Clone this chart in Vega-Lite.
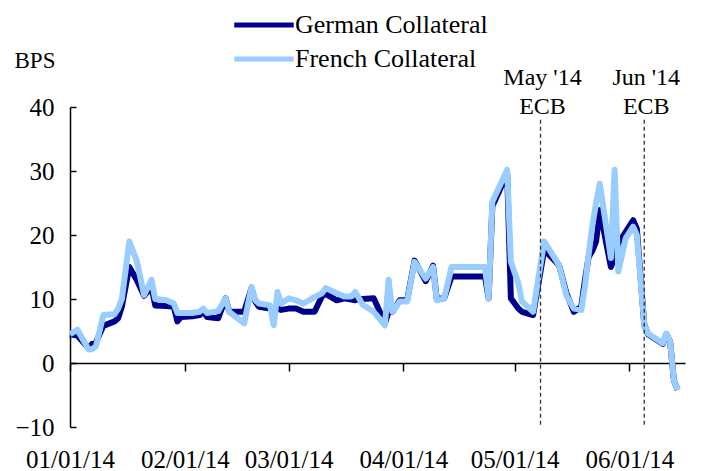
{
  "$schema": "https://vega.github.io/schema/vega-lite/v6.json",
  "width": 615,
  "height": 320,
  "autosize": {"type": "none"},
  "padding": {"left": 70, "top": 107, "right": 17, "bottom": 44},
  "config": {
    "font": "Liberation Serif",
    "view": {"stroke": null},
    "axis": {"labelFont": "Liberation Serif", "labelColor": "#000", "titleFont": "Liberation Serif", "grid": false}
  },
  "datasets": {
    "rates": [
      {"date": "2014-01-01", "german": 4.5, "french": 4.5},
      {"date": "2014-01-03", "german": 4.3, "french": 5.2},
      {"date": "2014-01-06", "german": 2.3, "french": 2.1},
      {"date": "2014-01-07", "german": 3.0, "french": 2.2},
      {"date": "2014-01-08", "german": 3.2, "french": 2.6},
      {"date": "2014-01-10", "german": 5.8, "french": 7.5},
      {"date": "2014-01-13", "german": 6.5, "french": 7.6},
      {"date": "2014-01-14", "german": 7.0, "french": 8.5},
      {"date": "2014-01-15", "german": 8.8, "french": 10.0},
      {"date": "2014-01-17", "german": 15.0, "french": 19.0},
      {"date": "2014-01-19", "german": 13.0, "french": 16.0},
      {"date": "2014-01-21", "german": 10.5, "french": 10.6},
      {"date": "2014-01-23", "german": 11.9, "french": 13.0},
      {"date": "2014-01-24", "german": 9.0, "french": 10.0},
      {"date": "2014-01-27", "german": 8.9, "french": 9.8},
      {"date": "2014-01-29", "german": 8.8, "french": 9.3},
      {"date": "2014-01-30", "german": 6.5, "french": 7.8},
      {"date": "2014-01-31", "german": 7.2, "french": 7.8},
      {"date": "2014-02-03", "german": 7.3, "french": 7.8},
      {"date": "2014-02-05", "german": 7.5, "french": 8.0},
      {"date": "2014-02-06", "german": 8.0, "french": 8.5},
      {"date": "2014-02-07", "german": 7.2, "french": 7.8},
      {"date": "2014-02-10", "german": 7.0, "french": 8.1},
      {"date": "2014-02-12", "german": 10.1, "french": 10.1},
      {"date": "2014-02-13", "german": 8.0, "french": 8.0},
      {"date": "2014-02-17", "german": 8.0, "french": 6.2},
      {"date": "2014-02-19", "german": 11.7, "french": 11.9},
      {"date": "2014-02-20", "german": 9.6, "french": 9.8},
      {"date": "2014-02-21", "german": 8.8, "french": 9.3},
      {"date": "2014-02-24", "german": 8.5, "french": 9.0},
      {"date": "2014-02-25", "german": 8.5, "french": 5.9},
      {"date": "2014-02-26", "german": 8.5, "french": 11.1},
      {"date": "2014-02-27", "german": 8.3, "french": 9.3},
      {"date": "2014-03-01", "german": 8.5, "french": 10.1},
      {"date": "2014-03-03", "german": 8.5, "french": 9.8},
      {"date": "2014-03-05", "german": 8.0, "french": 9.3},
      {"date": "2014-03-08", "german": 8.0, "french": 10.3},
      {"date": "2014-03-10", "german": 10.4, "french": 10.9},
      {"date": "2014-03-11", "german": 10.8, "french": 11.7},
      {"date": "2014-03-14", "german": 9.8, "french": 10.9},
      {"date": "2014-03-16", "german": 10.1, "french": 10.4},
      {"date": "2014-03-18", "german": 9.9, "french": 10.4},
      {"date": "2014-03-19", "german": 9.8, "french": 11.1},
      {"date": "2014-03-20", "german": 10.0, "french": 10.1},
      {"date": "2014-03-21", "german": 10.0, "french": 9.1},
      {"date": "2014-03-24", "german": 10.1, "french": 8.0},
      {"date": "2014-03-27", "german": 6.2, "french": 5.9},
      {"date": "2014-03-28", "german": 8.0, "french": 13.0},
      {"date": "2014-03-29", "german": 8.0, "french": 8.0},
      {"date": "2014-03-31", "german": 9.8, "french": 9.6},
      {"date": "2014-04-02", "german": 9.8, "french": 9.6},
      {"date": "2014-04-04", "german": 16.0, "french": 15.8},
      {"date": "2014-04-07", "german": 12.8, "french": 13.2},
      {"date": "2014-04-09", "german": 15.2, "french": 15.0},
      {"date": "2014-04-10", "german": 10.0, "french": 9.8},
      {"date": "2014-04-12", "german": 10.1, "french": 10.1},
      {"date": "2014-04-14", "german": 13.5, "french": 15.0},
      {"date": "2014-04-23", "german": 13.5, "french": 15.0},
      {"date": "2014-04-24", "german": 10.1, "french": 10.1},
      {"date": "2014-04-25", "german": 24.5, "french": 25.2},
      {"date": "2014-04-29", "german": 29.6, "french": 30.2},
      {"date": "2014-04-30", "german": 10.1, "french": 15.8},
      {"date": "2014-05-02", "german": 8.5, "french": 12.5},
      {"date": "2014-05-03", "german": 8.0, "french": 9.6},
      {"date": "2014-05-06", "german": 7.5, "french": 8.0},
      {"date": "2014-05-09", "german": 17.7, "french": 19.0},
      {"date": "2014-05-13", "german": 15.3, "french": 15.3},
      {"date": "2014-05-15", "german": 10.9, "french": 10.5},
      {"date": "2014-05-17", "german": 8.0, "french": 8.5},
      {"date": "2014-05-19", "german": 8.8, "french": 8.3},
      {"date": "2014-05-20", "german": 13.0, "french": 12.0},
      {"date": "2014-05-21", "german": 16.6, "french": 17.0},
      {"date": "2014-05-22", "german": 17.5, "french": 21.5},
      {"date": "2014-05-23", "german": 19.0, "french": 25.0},
      {"date": "2014-05-24", "german": 23.9, "french": 28.0},
      {"date": "2014-05-27", "german": 15.0, "french": 16.4},
      {"date": "2014-05-28", "german": 16.5, "french": 30.2},
      {"date": "2014-05-29", "german": 18.7, "french": 14.3},
      {"date": "2014-05-31", "german": 20.5, "french": 19.5},
      {"date": "2014-06-02", "german": 22.3, "french": 21.3},
      {"date": "2014-06-03", "german": 21.0, "french": 20.0},
      {"date": "2014-06-05", "german": 6.0, "french": 6.0},
      {"date": "2014-06-06", "german": 4.5, "french": 4.6},
      {"date": "2014-06-10", "german": 3.0, "french": 3.1},
      {"date": "2014-06-11", "german": 4.5, "french": 4.6},
      {"date": "2014-06-12", "german": 3.3, "french": 3.3},
      {"date": "2014-06-13", "german": -2.7, "french": -2.7},
      {"date": "2014-06-14", "german": -4.2, "french": -4.2}
    ],
    "events": [
      {"date": "2014-05-08", "line1": "May '14", "line2": "ECB"},
      {"date": "2014-06-05", "line1": "Jun '14", "line2": "ECB"}
    ]
  },
  "layer": [
    {
      "data": {"name": "rates"},
      "mark": {"type": "line", "strokeWidth": 6, "strokeJoin": "round", "clip": false},
      "encoding": {
        "x": {
          "field": "date", "type": "temporal",
          "scale": {"domain": [{"year": 2014, "month": 1, "date": 1}, {"year": 2014, "month": 6, "date": 16}]},
          "axis": {
            "title": null, "orient": "bottom", "domain": false, "ticks": false, "format": "%m/%d/%y",
            "values": [{"year": 2014, "month": 1, "date": 1}, {"year": 2014, "month": 2, "date": 1}, {"year": 2014, "month": 3, "date": 1}, {"year": 2014, "month": 4, "date": 1}, {"year": 2014, "month": 5, "date": 1}, {"year": 2014, "month": 6, "date": 1}],
            "labelFontSize": 25, "labelPadding": 20, "labelFlush": false, "labelOverlap": false
          }
        },
        "y": {
          "field": "german", "type": "quantitative",
          "scale": {"domain": [-10, 40], "nice": false, "zero": false},
          "axis": {
            "title": "BPS", "titleAngle": 0, "titleAlign": "left", "titleBaseline": "middle", "titleX": -56, "titleY": -47,
            "titleFontSize": 23, "titleFontWeight": "normal", "titleColor": "#000",
            "values": [-10, 0, 10, 20, 30, 40], "labelFontSize": 25, "labelPadding": 22,
            "domainColor": "#000", "domainWidth": 1.5, "tickColor": "#000", "tickSize": -6, "tickWidth": 1.5
          }
        },
        "color": {
          "datum": "German Collateral",
          "type": "nominal",
          "scale": {"domain": ["German Collateral", "French Collateral"], "range": ["#00008B", "#99CCFF"]},
          "legend": {
            "title": null, "orient": "none", "legendX": 173, "legendY": -103,
            "symbolType": "M-1.65,0H1.65", "symbolSize": 1300, "symbolStrokeWidth": 5,
            "labelFontSize": 26, "labelFont": "Liberation Serif", "labelColor": "#000", "labelOffset": 10,
            "labelLimit": 400, "rowPadding": -5
          }
        }
      }
    },
    {
      "data": {"name": "rates"},
      "mark": {"type": "line", "strokeWidth": 6, "strokeJoin": "round", "clip": false},
      "encoding": {
        "x": {"field": "date", "type": "temporal", "axis": null},
        "y": {"field": "french", "type": "quantitative"},
        "color": {"datum": "French Collateral", "type": "nominal"}
      }
    },
    {
      "data": {"name": "events"},
      "mark": {"type": "rule", "strokeDash": [4, 3], "strokeWidth": 1.3, "color": "#333"},
      "encoding": {
        "x": {
          "field": "date", "type": "temporal",
          "axis": {
            "title": null, "orient": "bottom", "labels": false, "offset": -64, "domainColor": "#000", "domainWidth": 1.5,
            "tickColor": "#000", "tickSize": 8, "tickWidth": 1.5,
            "values": [{"year": 2014, "month": 1, "date": 1}, {"year": 2014, "month": 2, "date": 1}, {"year": 2014, "month": 3, "date": 1}, {"year": 2014, "month": 4, "date": 1}, {"year": 2014, "month": 5, "date": 1}, {"year": 2014, "month": 6, "date": 1}]
          }
        },
        "y": {"datum": 38},
        "y2": {"datum": -10}
      }
    },
    {
      "data": {"name": "events"},
      "mark": {"type": "text", "fontSize": 24, "baseline": "middle", "align": "center", "color": "#000", "dx": 2},
      "encoding": {
        "x": {"field": "date", "type": "temporal", "axis": null},
        "y": {"datum": 44.5},
        "text": {"field": "line1"}
      }
    },
    {
      "data": {"name": "events"},
      "mark": {"type": "text", "fontSize": 24, "baseline": "middle", "align": "center", "color": "#000", "dx": 2},
      "encoding": {
        "x": {"field": "date", "type": "temporal", "axis": null},
        "y": {"datum": 40},
        "text": {"field": "line2"}
      }
    }
  ],
  "resolve": {"axis": {"x": "independent"}}
}
